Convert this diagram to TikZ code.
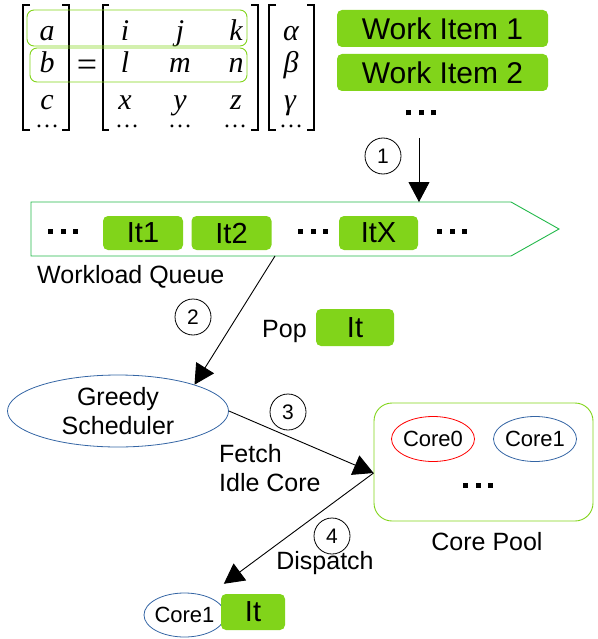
\documentclass[tikz,border=0pt]{standalone}
\usepackage{fontspec}
\setmainfont{Liberation Sans}
\newfontfamily\mserif{Liberation Serif}
\usetikzlibrary{arrows.meta,shapes.geometric}

\definecolor{lime}{HTML}{81D41A}
\definecolor{qgreen}{HTML}{22B84A}
\definecolor{coreblue}{HTML}{3465A4}
\definecolor{corered}{HTML}{FF0000}

\newcommand\sz[1]{\fontsize{#1}{#1}\selectfont}
\newcommand\szb[2]{\fontsize{#1}{#2}\selectfont}
% three heavy square dots
\newcommand\tridots{\rule{5pt}{5pt}\hspace{7.5pt}\rule{5pt}{5pt}\hspace{7.5pt}\rule{5pt}{5pt}}

\tikzset{
  lbl/.style={font=\sz{25}, inner sep=0},
  gbox/.style={fill=lime, rounded corners=5pt, inner sep=0, font=\sz{29}},
  num/.style={circle, draw, line width=0.8pt, minimum size=36pt, inner sep=0, font=\sz{21}},
  arr/.style={line width=0.9pt, -{Triangle[width=21pt,length=20pt]}},
  core/.style={ellipse, draw, line width=0.8pt, minimum width=83pt, minimum height=45pt, inner sep=0, font=\sz{22}},
  mtx/.style={font=\mserif\itshape\sz{30}, anchor=base, inner sep=0},
  mdots/.style={font=\mserif\sz{24}, anchor=base, inner sep=0, text height=3pt, text depth=0pt},
  brk/.style={line width=2.6pt},
  rowbox/.style={draw=lime, line width=0.9pt, rounded corners=7pt},
  tdots/.style={inner sep=0},
}

\begin{document}
\begin{tikzpicture}[x=1pt,y=-1pt]
\useasboundingbox (0,0) rectangle (597,639);

% ---- matrix equation ----
\draw[brk] (30,5) -- (23,5) -- (23,130) -- (30,130);
\draw[brk] (62,5) -- (69,5) -- (69,130) -- (62,130);
\draw[brk] (109,5) -- (103,5) -- (103,130) -- (109,130);
\draw[brk] (251,5) -- (258,5) -- (258,130) -- (251,130);
\draw[brk] (276,5) -- (269,5) -- (269,130) -- (276,130);
\draw[brk] (307,5) -- (314,5) -- (314,130) -- (307,130);

\node[mtx] (va) at (47,41) {a};
\node[mtx] (vb) at (47,73) {b};
\node[mtx] (vc) at (47,110) {c};
\node[mdots] (vd) at (47,128) {…};

\node[font=\mserif\sz{36}, anchor=base, inner sep=0] (eq) at (87,77) {=};

\node[mtx] (mi) at (125,41) {i};
\node[mtx] (mj) at (180,41) {j};
\node[mtx] (mk) at (236,41) {k};
\node[mtx] (ml) at (125,73) {l};
\node[mtx] (mm) at (180,73) {m};
\node[mtx] (mn) at (236,73) {n};
\node[mtx] (mx) at (125,110) {x};
\node[mtx] (my) at (180,110) {y};
\node[mtx] (mz) at (236,110) {z};
\node[mdots] (md1) at (127,128) {…};
\node[mdots] (md2) at (180,128) {…};
\node[mdots] (md3) at (235,128) {…};

\node[mtx] (ga) at (291,41) {α};
\node[mtx] (gb) at (291,73) {β};
\node[mtx] (gc) at (290,110) {γ};
\node[mdots] (gd) at (291,128) {…};

\draw[rowbox] (27,10) rectangle (247,46);
\draw[rowbox] (30,48) rectangle (247,82);

% ---- work items ----
\node[gbox, minimum width=211pt, minimum height=37pt, font=\sz{30}] (w1) at (442.5,28.5) {Work Item 1};
\node[gbox, minimum width=211pt, minimum height=37pt, font=\sz{30}] (w2) at (442.5,72.5) {Work Item 2};
\node[tdots] (wd) at (421,113) {\tridots};

% ---- workload queue ----
\draw[qgreen, line width=0.9pt] (31,202) -- (511,202) -- (559,229) -- (511,256) -- (31,256) -- cycle;
\coordinate (qtop) at (419,202);
\coordinate (qbot) at (275,256);
\node[tdots] (qd1) at (63,231) {\tridots};
\node[gbox, minimum width=80pt, minimum height=34pt] (it1) at (143,233) {It1};
\node[gbox, minimum width=80pt, minimum height=34pt] (it2) at (231.5,233) {It2};
\node[tdots] (qd2) at (313,231) {\tridots};
\node[gbox, minimum width=79pt, minimum height=34pt] (itx) at (378.5,233) {ItX};
\node[tdots] (qd3) at (452,231) {\tridots};
\node[lbl, anchor=west] (wq) at (37,277) {Workload Queue};

% ---- step 1 ----
\coordinate (a1s) at (419,138);
\node[num] (n1) at (383,156) {1};
\draw[arr] (a1s) -- (qtop);

% ---- step 2 ----
\node[ellipse, draw=coreblue, line width=0.8pt, minimum width=221pt, minimum height=72pt, inner sep=0] (greedy) at (118,411) {};
\node[lbl, align=center, font=\szb{25}{29}] (greedyl) at (greedy) {Greedy\\Scheduler};
\node[num] (n2) at (193,317) {2};
\draw[arr] (qbot) -- (greedy.19);
\node[lbl, anchor=west] (pop) at (262,331) {Pop};
\node[gbox, minimum width=78pt, minimum height=37pt] (popit) at (355,327.5) {It};

% ---- core pool ----
\node[draw=lime, line width=0.9pt, rounded corners=18pt, minimum width=219pt, minimum height=118pt, inner sep=0] (pool) at (483.5,462) {};
\node[core, draw=corered] (c0) at (433,439) {\makebox[0pt]{Core0}};
\node[core, draw=coreblue] (c1) at (535,439) {\makebox[0pt]{Core1}};
\node[tdots] (pd) at (478,485) {\tridots};
\node[lbl] (pooll) at (487,542) {Core Pool};

% ---- step 3 ----
\coordinate (pin) at ([yshift=-11pt]pool.west);
\node[num] (n3) at (288,412) {3};
\draw[arr] (greedy.east) -- (pin);
\node[lbl, anchor=west, align=left, font=\szb{25}{29}] (fetch) at (219,468) {Fetch\\Idle Core};

% ---- step 4 ----
\node[core, draw=coreblue, minimum width=81pt, minimum height=44pt] (c1b) at (184.5,615) {\makebox[0pt]{Core1}};
\node[gbox, minimum width=64pt, minimum height=36pt] (itb) at (253,612) {It};
\coordinate (dtip) at ([shift={(3pt,10pt)}]itb.north west);
\node[num] (n4) at (332,536) {4};
\draw[arr] (pin) -- (dtip);
\node[lbl] (disp) at (325,563) {Dispatch};
\end{tikzpicture}
\end{document}
